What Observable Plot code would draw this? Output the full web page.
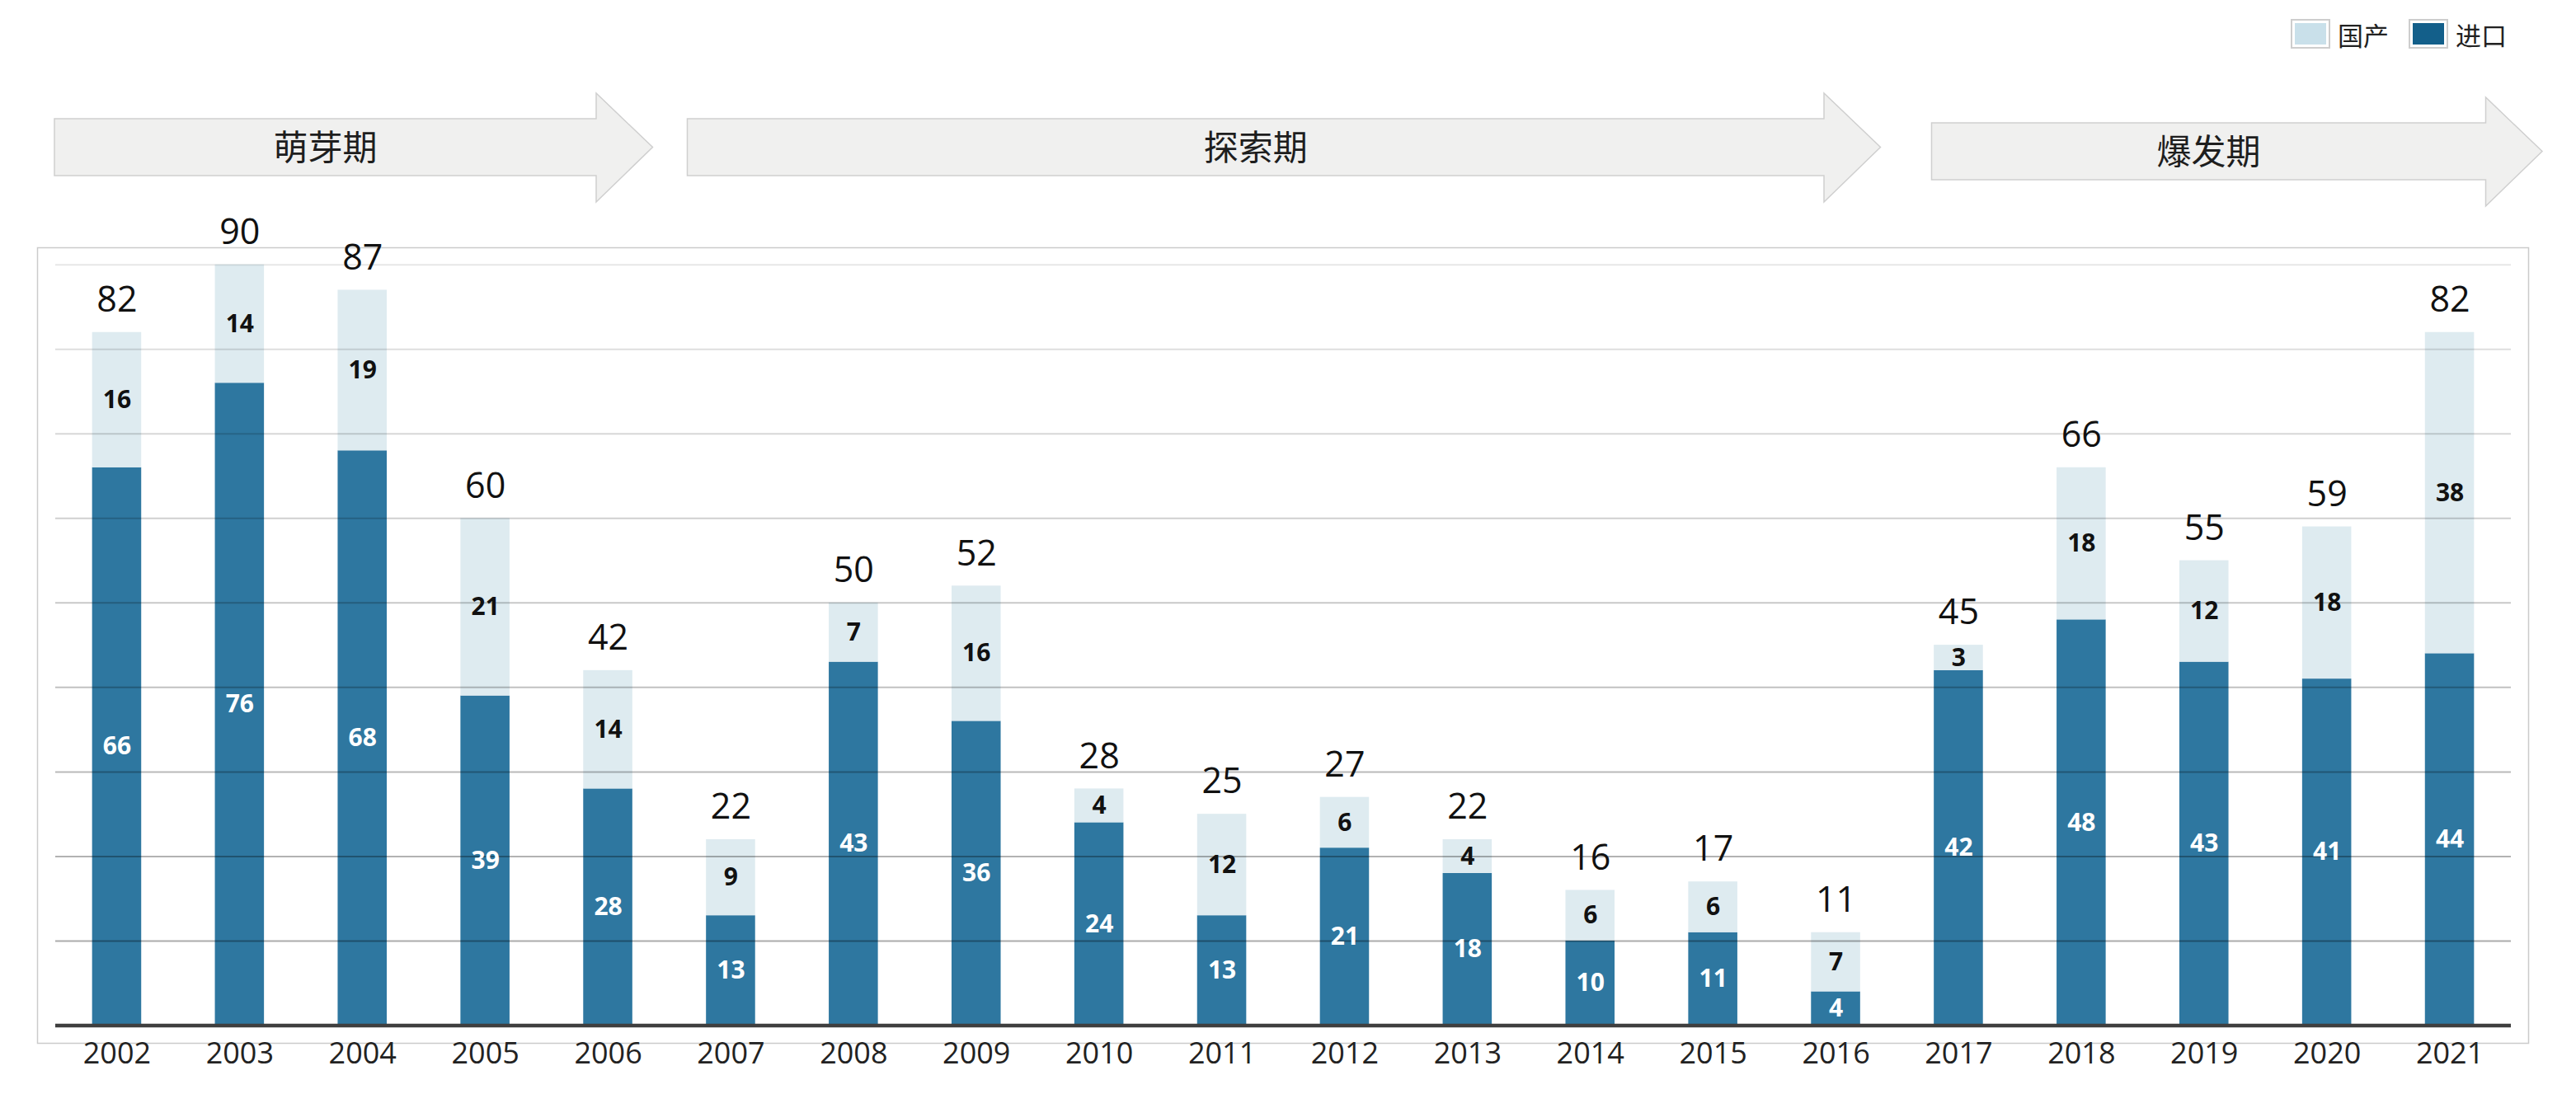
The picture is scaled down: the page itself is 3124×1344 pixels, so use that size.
<!DOCTYPE html>
<html>
<head>
<meta charset="utf-8">
<script src="https://cdn.jsdelivr.net/npm/d3@7"></script>
<script src="https://cdn.jsdelivr.net/npm/@observablehq/plot@0.6"></script>
<style>
html, body { margin: 0; padding: 0; background: #fff; }
#legend { height: 70px; box-sizing: border-box; display: flex; justify-content: flex-end; align-items: center;
  padding: 12px 84px 0 0; font-family: "Noto Sans CJK SC", sans-serif; font-size: 31px; color: #222; }
.item { display: flex; align-items: center; margin-left: 24px; }
.sw { width: 48px; height: 36px; box-sizing: border-box; border: 2px solid #cdcdcd; padding: 3px; background: #fff; margin-right: 9px; }
.sw div { width: 100%; height: 100%; }
</style>
</head>
<body>
<div id="legend"></div>
<div id="chart"></div>
<script>
// ---- data ----
const years = ["2002","2003","2004","2005","2006","2007","2008","2009","2010","2011","2012","2013","2014","2015","2016","2017","2018","2019","2020","2021"];
const importVals = [66,76,68,39,28,13,43,36,24,13,21,18,10,11,4,42,48,43,41,44];
const domesticVals = [16,14,19,21,14,9,7,16,4,12,6,4,6,6,7,3,18,12,18,38];
const totals = [82,90,87,60,42,22,50,52,28,25,27,22,16,17,11,45,66,55,59,82];
const seriesNames = ["进口", "国产"];
const legendNames = ["国产", "进口"];
const gridTicks = [10,20,30,40,50,60,70,80,90];
const phaseNames = ["萌芽期", "探索期", "爆发期"];
const phaseStart = ["2002", "2007", "2017"];
const phaseEnd = ["2006", "2016", "2021"];

// ---- styles ----
const barColors = {"进口": "#2e77a0", "国产": "#deebf0"};
const swatchColors = {"国产": "#c9e0ea", "进口": "#135f8a"};

// legend
const leg = document.getElementById("legend");
legendNames.forEach(n => {
  const it = document.createElement("div"); it.className = "item";
  it.innerHTML = `<div class="sw"><div style="background:${swatchColors[n]}"></div></div><span>${n}</span>`;
  leg.appendChild(it);
});

const rows = [];
years.forEach((y, i) => rows.push({year: y, type: seriesNames[0], value: importVals[i]}));
years.forEach((y, i) => rows.push({year: y, type: seriesNames[1], value: domesticVals[i]}));
const totalRows = years.map((y, i) => ({year: y, total: totals[i]}));
const phases = phaseNames.map((n, i) => ({name: n, from: phaseStart[i], to: phaseEnd[i]}));

const W = 3124, H = 1274;

function arrows(index, scales, values, dimensions) {
  const x = scales.x;
  const bw = x.bandwidth(), step = x.step();
  const half = (step - bw) / 2;
  const g = d3.create("svg:g");
  const bodyTop = 74, bodyBot = 143, headTop = 43, headBot = 175, mid = (bodyTop + bodyBot) / 2;
  const headLen = 0.46 * step;
  const last = phases.length - 1;
  phases.forEach((p, i) => {
    const b0 = x(p.from) - half;
    const b1 = x(p.to) + bw + half;
    const left = i === 0 ? b0 - 1 : (i === last ? b0 + 42 : b0 + 22);
    const tip = i === last ? b1 + 38 : b1 - 20;
    const hx = tip - headLen;
    const dy = i === last ? 5 : 0;
    const pts = [[left, bodyTop + dy], [hx, bodyTop + dy], [hx, headTop + dy], [tip, mid + dy], [hx, headBot + dy], [hx, bodyBot + dy], [left, bodyBot + dy]];
    g.append("path").attr("d", "M" + pts.map(q => q.join(",")).join("L") + "Z")
      .attr("fill", "#f0f0ef").attr("stroke", "#cfcfcf").attr("stroke-width", 1.5);
    g.append("text").attr("x", (left + hx) / 2).attr("y", mid + dy).attr("dy", "0.36em")
      .attr("text-anchor", "middle").attr("font-family", "Noto Sans CJK SC").attr("font-size", 42)
      .attr("fill", "#1e1e1e").text(p.name);
  });
  return g.node();
}

const chart = Plot.plot({
  width: W, height: H,
  marginLeft: 67, marginRight: 79, marginTop: 250.7, marginBottom: 100.5,
  x: {domain: years, type: "band", paddingInner: 0.6, paddingOuter: 0.3, round: false, label: null},
  y: {domain: [0, 90], axis: null},
  marks: [
    Plot.frame({stroke: "#cbcbcb", strokeWidth: 1.5, insetLeft: -22, insetRight: -21, insetTop: -20.7, insetBottom: -21.5}),
    Plot.barY(rows, {x: "year", y: "value", fill: d => barColors[d.type]}),
    Plot.ruleY(gridTicks, {stroke: "#000", strokeWidth: 2, strokeOpacity: d => 0.36 - d * 0.0029}),
    Plot.ruleY([0], {stroke: "#3f3f3f", strokeWidth: 4.5}),
    Plot.text(rows, Plot.stackY({x: "year", y: "value", text: "value",
      fill: d => d.type === seriesNames[0] ? "#fff" : "#111",
      fontFamily: "Open Sans", fontWeight: "bold", fontSize: 30})),
    Plot.text(totalRows, {x: "year", y: "total", text: "total", lineAnchor: "middle", dy: -39,
      fontFamily: "Open Sans", fontSize: 43, fill: "#111"}),
    Plot.axisX({tickSize: 0, tickPadding: 20, fontSize: 36, fontFamily: "Open Sans", color: "#222", label: null}),
    arrows
  ]
});
document.getElementById("chart").appendChild(chart);
</script>
</body>
</html>
